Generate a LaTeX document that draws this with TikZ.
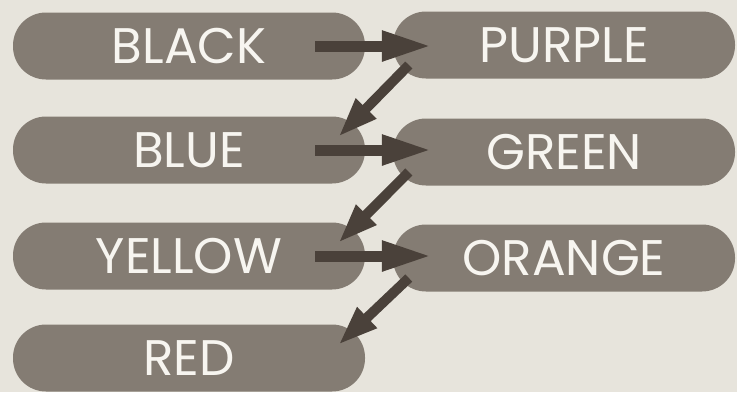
\documentclass[tikz,border=0pt]{standalone}
\usepackage{fontspec}
\setmainfont{Poppins}
\usetikzlibrary{arrows.meta}
\definecolor{paper}{RGB}{231,228,220}
\definecolor{slate}{RGB}{132,124,115}
\definecolor{ink}{RGB}{74,65,58}
\definecolor{chalk}{RGB}{247,245,240}

\begin{document}
\begin{tikzpicture}[x=1pt,y=-1pt,
    pill/.style={rectangle,rounded corners=33pt,fill=slate,text=chalk,minimum height=67pt,
      inner sep=0pt,font=\fontsize{50}{50}\selectfont},
    push/.style={draw=ink,line width=11pt,-{Triangle[length=50pt,width=28pt]}},
    drop/.style={draw=ink,line width=10pt,-{Triangle[length=40pt,width=26pt]}}]
  \fill[paper] (0,0) rectangle (737,392);
  \useasboundingbox (0,0) rectangle (737,392);
  % left column
  \foreach \t/\y [count=\i] in {BLACK/46,BLUE/150,YELLOW/256,RED/358}
    \node[pill,minimum width=352pt] (l\i) at (189,\y) {\t};
  % right column
  \foreach \t/\y [count=\i] in {PURPLE/45,GREEN/152,ORANGE/258}
    \node[pill,minimum width=342pt] (r\i) at (564,\y) {\t};
  % across and back down
  \foreach \i [evaluate=\i as \j using int(\i+1)] in {1,2,3} {
    \draw[push] ([xshift=-50pt]l\i.east) -- ([xshift=39pt]r\i.west |- l\i.east);
    \draw[drop] ([shift={(16,20)}]r\i.west) -- ([shift={(-27,-13)}]l\j.east);
  }
\end{tikzpicture}
\end{document}
